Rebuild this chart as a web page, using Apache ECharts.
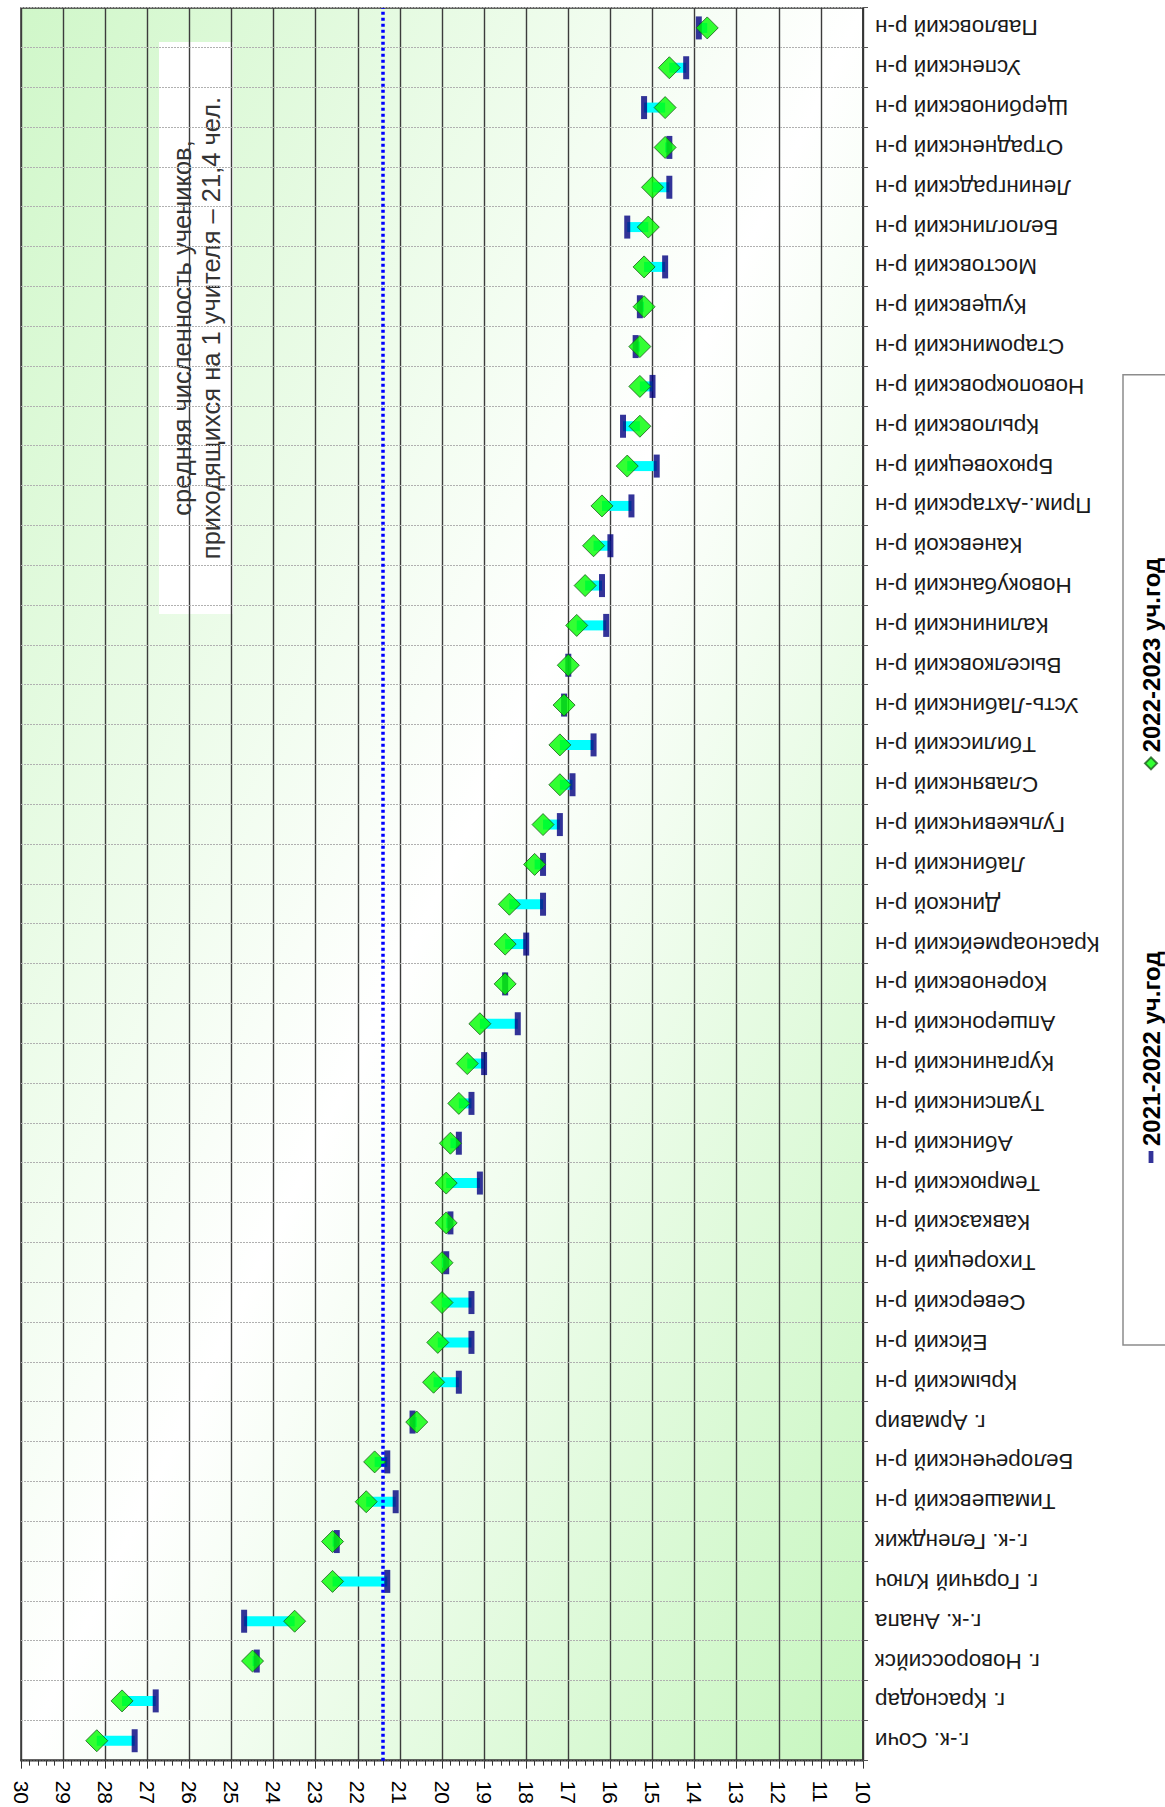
<!DOCTYPE html>
<html>
<head>
<meta charset="utf-8">
<script src="https://cdn.jsdelivr.net/npm/echarts@6/dist/echarts.min.js"></script>
<style>
html,body{margin:0;padding:0;width:1165px;height:1807px;overflow:hidden;background:#fff;}
#wrap{position:absolute;left:0;top:0;width:1807px;height:1165px;transform-origin:0 0;transform:translateY(1807px) rotate(-90deg);}
</style>
</head>
<body>
<div id="wrap"></div>
<script>
const categories = [
  'г.-к. Сочи','г. Краснодар','г. Новороссийск','г.-к. Анапа','г. Горячий Ключ','г.-к. Геленджик',
  'Тимашевский р-н','Белореченский р-н','г. Армавир','Крымский р-н','Ейский р-н','Северский р-н',
  'Тихорецкий р-н','Кавказский р-н','Темрюкский р-н','Абинский р-н','Туапсинский р-н','Курганинский р-н',
  'Апшеронский р-н','Кореновский р-н','Красноармейский р-н','Динской р-н','Лабинский р-н','Гулькевичский р-н',
  'Славянский р-н','Тбилисский р-н','Усть-Лабинский р-н','Выселковский р-н','Калининский р-н','Новокубанский р-н',
  'Каневской р-н','Прим.-Ахтарский р-н','Брюховецкий р-н','Крыловский р-н','Новопокровский р-н','Староминский р-н',
  'Кущевский р-н','Мостовский р-н','Белоглинский р-н','Ленинградский р-н','Отрадненский р-н','Щербиновский р-н',
  'Успенский р-н','Павловский р-н'
];
const values2021 = [
  27.3, 26.8, 24.4, 24.7, 21.3, 22.5,
  21.1, 21.3, 20.7, 19.6, 19.3, 19.3,
  19.9, 19.8, 19.1, 19.6, 19.3, 19.0,
  18.2, 18.5, 18.0, 17.6, 17.6, 17.2,
  16.9, 16.4, 17.1, 17.0, 16.1, 16.2,
  16.0, 15.5, 14.9, 15.7, 15.0, 15.4,
  15.3, 14.7, 15.6, 14.6, 14.6, 15.2,
  14.2, 13.9
];
const values2022 = [
  28.2, 27.6, 24.5, 23.5, 22.6, 22.6,
  21.8, 21.6, 20.6, 20.2, 20.1, 20.0,
  20.0, 19.9, 19.9, 19.8, 19.6, 19.4,
  19.1, 18.5, 18.5, 18.4, 17.8, 17.6,
  17.2, 17.2, 17.1, 17.0, 16.8, 16.6,
  16.4, 16.2, 15.6, 15.3, 15.3, 15.3,
  15.2, 15.2, 15.1, 15.0, 14.7, 14.7,
  14.6, 13.7
];
const seriesNames = ['2021-2022 уч.год', '2022-2023 уч.год'];
const averageValue = 21.4;
const noteLines = ['средняя численность учеников,', 'приходящихся на 1 учителя – 21,4 чел.'];
const valueMin = 10, valueMax = 30, valueInterval = 1;

const FONT = '"Liberation Sans", Arial, sans-serif';
const chart = echarts.init(document.getElementById('wrap'), null, {renderer:'svg', width:1807, height:1165});

const rangeData = categories.map((c, i) => [i, values2021[i], values2022[i]]);

chart.setOption({
  animation: false,
  textStyle: {fontFamily: FONT},
  grid: {
    left: 46, right: 8, top: 21, bottom: 302,
    show: true,
    borderColor: '#333', borderWidth: 1.5,
    backgroundColor: {
      type: 'linear', x: 1, y: 0, x2: 0, y2: 1,
      colorStops: [
        {offset: 0, color: '#d0f7c9'},
        {offset: 0.5, color: '#ffffff'},
        {offset: 1, color: '#c6f6be'}
      ]
    }
  },
  legend: {
    left: 462, top: 1123,
    orient: 'horizontal',
    padding: [16, 183, 16, 182],
    itemGap: 181,
    itemWidth: 12, itemHeight: 12,
    borderColor: '#8c8c8c', borderWidth: 1.5,
    backgroundColor: '#fff',
    textStyle: {fontFamily: FONT, fontSize: 24, fontWeight: 'bold', color: '#000'},
    data: [
      {name: seriesNames[0], icon: 'path://M0,0H10V4H0Z'},
      {name: seriesNames[1], icon: 'diamond'}
    ]
  },
  xAxis: {
    type: 'category',
    data: categories,
    boundaryGap: true,
    axisLine: {show: true, lineStyle: {color: '#333', width: 1.5}},
    axisTick: {show: true, length: 5, lineStyle: {color: '#555'}},
    axisLabel: {interval: 0, rotate: 90, margin: 12, fontSize: 22.5, color: '#1a1a1a', fontFamily: FONT},
    splitLine: {show: true, lineStyle: {color: '#b0b0b0', width: 1, type: [2, 1]}}
  },
  yAxis: {
    type: 'value',
    min: valueMin, max: valueMax, interval: valueInterval,
    axisLine: {show: true, lineStyle: {color: '#333', width: 1.5}},
    axisTick: {show: true, length: 8, lineStyle: {color: '#333'}},
    minorTick: {show: true, splitNumber: 5, length: 5, lineStyle: {color: '#333'}},
    axisLabel: {rotate: 180, margin: 20, fontSize: 21, color: '#000', fontFamily: FONT},
    splitLine: {show: true, lineStyle: {color: '#3c3c3c', width: 1.4}}
  },
  graphic: [{
    type: 'group', left: 1193, top: 159, z: 100,
    children: [
      {type: 'rect', shape: {x: 0, y: 0, width: 572, height: 74}, style: {fill: '#ffffff'}},
      {type: 'text', x: 286, y: 37, style: {
        text: noteLines.join('\n'), align: 'center', verticalAlign: 'middle',
        fontSize: 25.5, fontFamily: FONT, fill: '#333', lineHeight: 29
      }}
    ]
  }],
  series: [
    {
      type: 'custom',
      data: rangeData,
      encode: {x: 0, y: [1, 2]},
      z: 2,
      silent: true,
      renderItem: function (params, api) {
        const i = api.value(0);
        const p1 = api.coord([i, api.value(1)]);
        const p2 = api.coord([i, api.value(2)]);
        const w = 10;
        return {
          type: 'rect',
          shape: {x: p1[0] - w / 2, y: Math.min(p1[1], p2[1]), width: w, height: Math.abs(p1[1] - p2[1])},
          style: {fill: '#00ffff'}
        };
      }
    },
    {
      name: seriesNames[0],
      type: 'scatter',
      data: values2021,
      symbol: 'rect',
      symbolSize: [23, 6],
      itemStyle: {color: '#00007f'},
      z: 3,
      markLine: {
        silent: true, symbol: 'none',
        label: {show: false},
        lineStyle: {color: '#0000ff', type: [3, 3], width: 3.5},
        data: [{yAxis: averageValue}]
      }
    },
    {
      name: seriesNames[1],
      type: 'scatter',
      data: values2022,
      symbol: 'diamond',
      symbolSize: 22,
      itemStyle: {color: '#00ff00', borderColor: '#1d5a1d', borderWidth: 1},
      z: 4
    }
  ]
});
</script>
</body>
</html>
